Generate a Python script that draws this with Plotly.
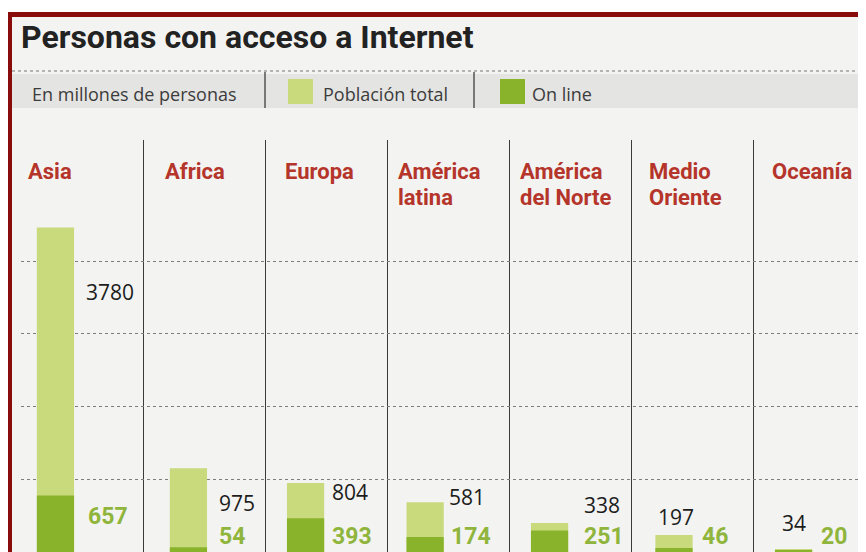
import plotly.graph_objects as go

# ---------------- data ----------------
regions = ["Asia", "Africa", "Europa", "América\nlatina", "América\ndel Norte",
           "Medio\nOriente", "Oceanía"]
poblacion_total = [3780, 975, 804, 581, 338, 197, 34]
online = [657, 54, 393, 174, 251, 46, 20]
legend_labels = ["En millones de personas", "Población total", "On line"]
title_text = "Personas con acceso a Internet"

# ---------------- layout constants ----------------
# page body has an 8px margin, so the figure is 8px smaller and all
# positions below are given in page (reference) pixels
OFF = 8
W, H = 866 - OFF, 552 - OFF
ML_R, MT_R = 21, 140            # plot area left / top in page pixels
PW, PH = 866 - ML_R, 552 - MT_R
COL = 122                      # px per column
X_LO = -0.5
X_HI = X_LO + PW / COL
Y_MAX = 4800
GRID_VALS = [840, 1690, 2540, 3390]

BG = "#f3f3f1"
BAND = "#e4e4e2"
LIGHT = "#c8da7c"
DARK = "#8ab32c"
GREEN_TXT = "#90b53c"
RED_TXT = "#b5352b"
FRAME = "#8a0b0b"
BOLD = "Roboto, Liberation Sans, sans-serif"
SANS = "Open Sans, Noto Sans, sans-serif"

BAR_W = 0.305
bar_offsets = [-0.37, -0.28, -0.32, -0.34, -0.32, -0.30, -0.32]

# label styling (pixel shifts)
tot_xanchor = ["left", "left", "left", "left", "left", "center", "center"]
tot_dx = [10, 10, 6, 3, 14, 2, 0]
tot_dy = [-64, -35, -9, 5, 18, 18, 26]
on_dx = [12, 10, 6, 5, 14, 7, 7]
on_dy = [-21, 11, -18, 1, -6, 12, 14]
region_dx = [7, 22, 20, 11, 11, 18, 19]


def pxx(x):
    return (x - ML_R) / PW


def pxy(y):
    return (552 - y) / PH


idx = list(range(len(regions)))

fig = go.Figure()
fig.add_trace(go.Bar(x=idx, y=poblacion_total, width=BAR_W, offset=bar_offsets,
                     marker=dict(color=LIGHT, line=dict(width=0)),
                     name=legend_labels[1], hoverinfo="skip"))
fig.add_trace(go.Bar(x=idx, y=online, width=BAR_W, offset=bar_offsets,
                     marker=dict(color=DARK, line=dict(width=0)),
                     name=legend_labels[2], hoverinfo="skip"))

annotations = []
shapes = []

# title
annotations.append(dict(xref="paper", yref="paper", x=pxx(19), y=pxy(37),
                        xanchor="left", yanchor="middle", showarrow=False,
                        text="<b>" + title_text + "</b>",
                        font=dict(family=BOLD, size=32, color="#222222")))

# legend band
shapes.append(dict(type="rect", xref="paper", yref="paper", x0=pxx(12), x1=pxx(880),
                   y0=pxy(108), y1=pxy(74), fillcolor=BAND, line=dict(width=0), layer="above"))
shapes.append(dict(type="line", xref="paper", yref="paper", x0=pxx(12), x1=pxx(880),
                   y0=pxy(71), y1=pxy(71), line=dict(color="#777777", width=1.2, dash="dot"),
                   layer="above"))
for sx in (265, 474):
    shapes.append(dict(type="line", xref="paper", yref="paper", x0=pxx(sx), x1=pxx(sx),
                       y0=pxy(108), y1=pxy(72), line=dict(color="#555555", width=1.5),
                       layer="above"))
for sx, col in ((288, LIGHT), (500, DARK)):
    shapes.append(dict(type="rect", xref="paper", yref="paper", x0=pxx(sx), x1=pxx(sx + 25),
                       y0=pxy(104), y1=pxy(79), fillcolor=col, line=dict(width=0),
                       layer="above"))
for tx, txt in zip((30, 321, 530), legend_labels):
    annotations.append(dict(xref="paper", yref="paper", x=pxx(tx), y=pxy(94),
                            xanchor="left", yanchor="middle", showarrow=False, text=txt,
                            font=dict(family=SANS, size=18, color="#3c3c3c")))

# frame (white outer margin + dark red border)
shapes.append(dict(type="rect", xref="paper", yref="paper", x0=pxx(0), x1=pxx(880),
                   y0=pxy(12), y1=pxy(-5), fillcolor="white", line=dict(width=0), layer="above"))
shapes.append(dict(type="rect", xref="paper", yref="paper", x0=pxx(7), x1=pxx(880),
                   y0=pxy(17), y1=pxy(12), fillcolor=FRAME, line=dict(width=0), layer="above"))
shapes.append(dict(type="rect", xref="paper", yref="paper", x0=pxx(7), x1=pxx(12),
                   y0=pxy(560), y1=pxy(12), fillcolor=FRAME, line=dict(width=0), layer="above"))

# region labels
for i, name in enumerate(regions):
    for li, line in enumerate(name.split("\n")):
        annotations.append(dict(xref="x", yref="paper", x=i - 0.5, xshift=region_dx[i] - 2,
                                y=pxy(171 + 26 * li), xanchor="left", yanchor="middle",
                                showarrow=False, text="<b>" + line + "</b>",
                                font=dict(family=BOLD, size=22, color=RED_TXT)))

# value labels
for i in idx:
    right = i + bar_offsets[i] + BAR_W
    center = i + bar_offsets[i] + BAR_W / 2
    xa = tot_xanchor[i]
    annotations.append(dict(xref="x", yref="y", x=right if xa == "left" else center,
                            y=poblacion_total[i], xshift=tot_dx[i], yshift=tot_dy[i],
                            xanchor=xa, yanchor="middle", showarrow=False,
                            text=str(poblacion_total[i]),
                            font=dict(family=SANS, size=21, color="#1c1c1c")))
    annotations.append(dict(xref="x", yref="y", x=right, y=online[i],
                            xshift=on_dx[i], yshift=on_dy[i],
                            xanchor="left", yanchor="middle", showarrow=False,
                            text="<b>" + str(online[i]) + "</b>",
                            font=dict(family=BOLD, size=23, color=GREEN_TXT)))

fig.update_layout(
    width=W, height=H,
    margin=dict(l=ML_R - OFF, r=0, t=MT_R - OFF, b=0, pad=0),
    paper_bgcolor=BG, plot_bgcolor=BG,
    barmode="overlay", showlegend=False,
    annotations=annotations, shapes=shapes,
    xaxis=dict(range=[X_LO, X_HI], tickvals=[i + 0.5 for i in idx[:-1]],
               showgrid=True, gridcolor="#3a3a3a", gridwidth=1.2,
               showticklabels=False, ticks="", zeroline=False, showline=False,
               fixedrange=True),
    yaxis=dict(range=[0, Y_MAX], tickvals=GRID_VALS, showgrid=True,
               gridcolor="#7d7d7d", gridwidth=1.2, griddash="dot",
               showticklabels=False, ticks="", zeroline=False, showline=False,
               fixedrange=True),
)

fig.write_html("out.html")
